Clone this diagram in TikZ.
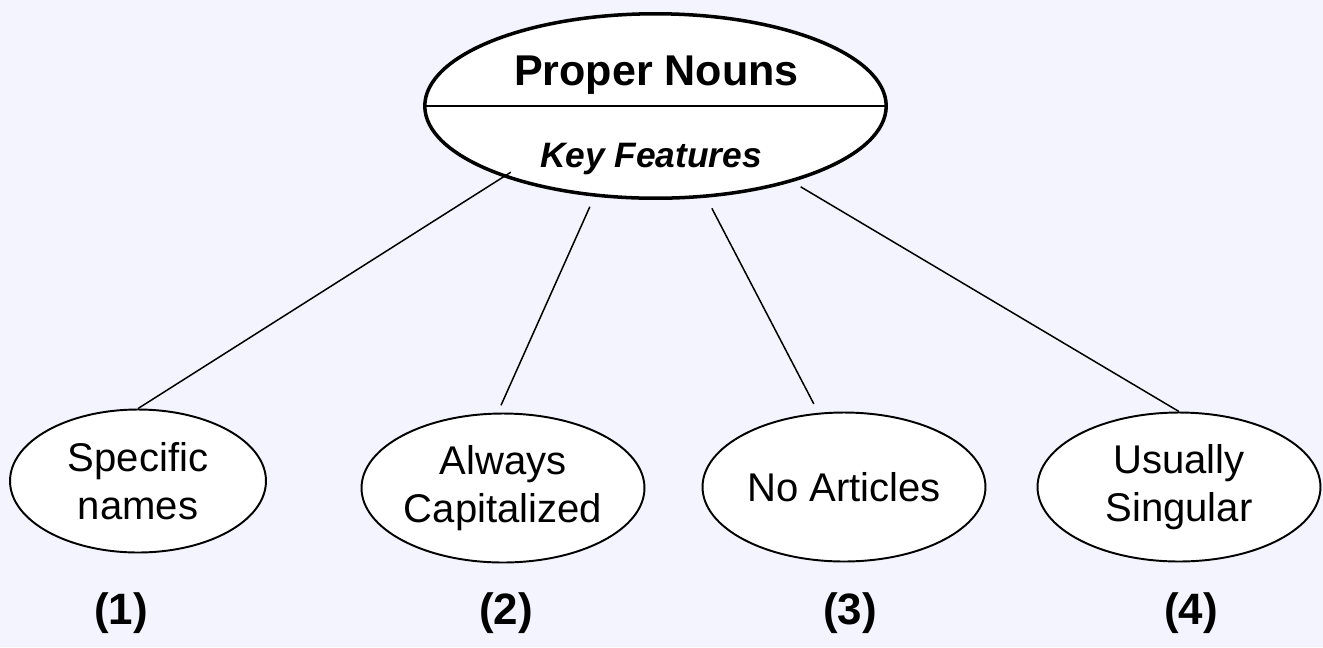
\documentclass[tikz,border=0pt]{standalone}
\usepackage{fontspec}
\usepackage{tikz}
\usetikzlibrary{shapes.geometric}
\setmainfont{Liberation Sans}
\definecolor{bgcolor}{RGB}{244,244,254}
\def\featfont{\fontsize{22.8}{27.3}\selectfont}

\begin{document}
\begin{tikzpicture}[x=0.02cm,y=-0.02cm]
                \tikzstyle{main ellipse}=[ellipse,draw=black,fill=white,line width=2pt,inner sep=0pt,minimum width=9.23cm,minimum height=3.69cm]
                \tikzstyle{feature}=[ellipse,draw=black,fill=white,line width=1.1pt,inner sep=0pt,align=center,font=\featfont]
                \tikzstyle{number}=[font=\fontsize{25}{30}\selectfont\bfseries]
                \tikzstyle{connector}=[draw=black,line width=0.85pt]

                % Draw the background
                \fill[bgcolor] (0,0) rectangle (1323,647);
                \useasboundingbox (0,0) rectangle (1323,647);

                % Draw the main ellipse and its two titles
                \node[main ellipse] (PN) at (655.5,106) {};
                \draw[line width=1.2pt] (PN.west) -- (PN.east);
                \node[anchor=base,font=\fontsize{24.5}{29}\selectfont\bfseries] (PN-title) at (656.5,85) {Proper Nouns};
                \node[anchor=base,font=\fontsize{20.1}{24}\selectfont\bfseries\itshape] (PN-sub) at (651,167) {Key Features};

                % Draw the feature nodes
                \foreach \name / \x / \y / \w / \h / \txt in {1/138/481/5.12cm/2.86cm/{Specific\\names},
                                                      2/503/488/5.66cm/2.98cm/{Always\\Capitalized},
                                                      3/844/487/5.66cm/2.98cm/{No Articles},
                                                      4/1179/487/5.66cm/2.98cm/{Usually\\Singular}}
                    \node[feature,minimum width=\w,minimum height=\h] (F-\name) at (\x,\y) {\txt};

                % Number the features
                \foreach \name / \x in {1/121,2/506,3/850,4/1191}
                    \node[number] (N-\name) at (\x,613) {(\name)};

                % Connect the main ellipse with every feature
                \foreach \a / \dest / \b / \s / \t in {205/1/north/-0.18cm/0cm,
                                                      236/2/94/0.22cm/0.16cm,
                                                      299/3/109/0.24cm/0.2cm,
                                                      331/4/north/0.19cm/0cm}
                    \draw[connector,shorten <=\s,shorten >=\t] (PN.\a) -- (F-\dest.\b);
            \end{tikzpicture}
\end{document}
